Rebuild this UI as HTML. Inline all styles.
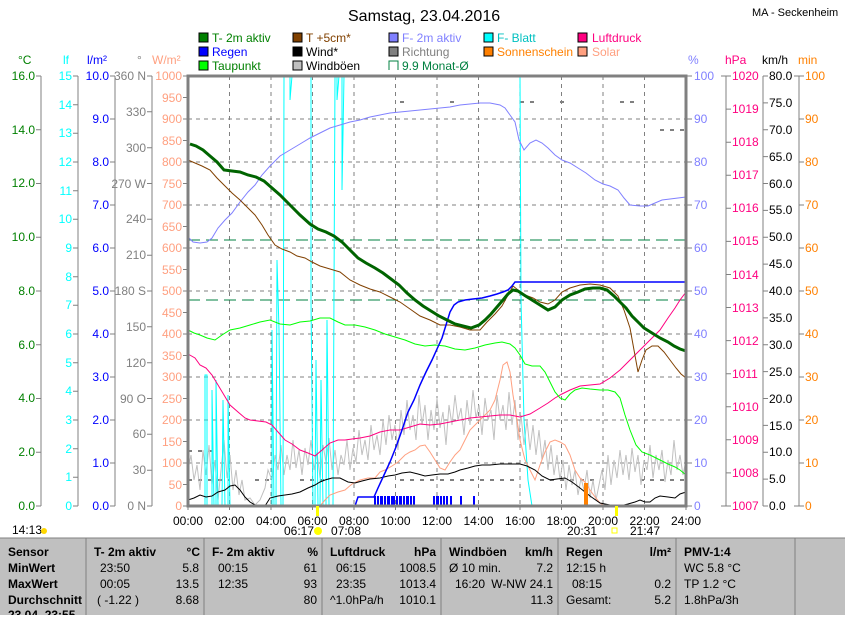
<!DOCTYPE html>
<html><head><meta charset="utf-8"><style>
body{margin:0;background:#fff;width:845px;height:615px;overflow:hidden;font-family:"Liberation Sans",sans-serif}
svg text{font-family:"Liberation Sans",sans-serif;font-size:12px}
</style></head><body>
<svg width="845" height="615" xmlns="http://www.w3.org/2000/svg">
<rect width="845" height="615" fill="#fff"/>
<text x="348" y="21" style="font-size:16px">Samstag, 23.04.2016</text>
<text x="752" y="16" style="font-size:11px">MA - Seckenheim</text>
<g style="font-size:12px">
<rect x="199" y="33" width="9" height="9" fill="#008000" stroke="#000"/><text x="212" y="42" fill="#008000">T- 2m aktiv</text>
<rect x="199" y="47" width="9" height="9" fill="#0000ff" stroke="#000"/><text x="212" y="56" fill="#0000ff">Regen</text>
<rect x="199" y="61" width="9" height="9" fill="#00ff00" stroke="#000"/><text x="212" y="70" fill="#008000">Taupunkt</text>
<rect x="293" y="33" width="9" height="9" fill="#804000" stroke="#000"/><text x="306" y="42" fill="#804000">T +5cm*</text>
<rect x="293" y="47" width="9" height="9" fill="#000" stroke="#000"/><text x="306" y="56">Wind*</text>
<rect x="293" y="61" width="9" height="9" fill="#c0c0c0" stroke="#000"/><text x="306" y="70">Windböen</text>
<rect x="389" y="33" width="9" height="9" fill="#8080ff" stroke="#000"/><text x="402" y="42" fill="#8080ff">F- 2m aktiv</text>
<rect x="389" y="47" width="9" height="9" fill="#808080" stroke="#000"/><text x="402" y="56" fill="#808080">Richtung</text>
<path d="M389,70 V61 H398 V70" fill="none" stroke="#008040"/><text x="402" y="70" fill="#008040">9.9 Monat-Ø</text>
<rect x="484" y="33" width="9" height="9" fill="#00ffff" stroke="#000"/><text x="497" y="42" fill="#00c0c0">F- Blatt</text>
<rect x="484" y="47" width="9" height="9" fill="#ff8000" stroke="#000"/><text x="497" y="56" fill="#ff8000">Sonnenschein</text>
<rect x="578" y="33" width="9" height="9" fill="#ff0080" stroke="#000"/><text x="592" y="42" fill="#ff0080">Luftdruck</text>
<rect x="578" y="47" width="9" height="9" fill="#ffa080" stroke="#000"/><text x="592" y="56" fill="#ffa080">Solar</text>
</g>
<g style="font-size:11px">
<text x="18" y="64" fill="#008000">°C</text>
<text x="63" y="64" fill="#00ffff">lf</text>
<text x="87" y="64" fill="#0000ff">l/m²</text>
<text x="137" y="64" fill="#808080">°</text>
<text x="152" y="64" fill="#ffa080">W/m²</text>
<text x="688" y="64" fill="#8080ff">%</text>
<text x="725" y="64" fill="#ff0080">hPa</text>
<text x="762" y="64" fill="#000">km/h</text>
<text x="798" y="64" fill="#ff8000">min</text>
</g>
<!-- axes -->
<g stroke="#808080" fill="none">
<path d="M41,76V506M36,506h5M36,452.25h5M36,398.5h5M36,344.75h5M36,291h5M36,237.25h5M36,183.5h5M36,129.75h5M36,76h5"/>
<path d="M78,76V506M73,506h5M73,477.3h5M73,448.7h5M73,420h5M73,391.3h5M73,362.7h5M73,334h5M73,305.3h5M73,276.7h5M73,248h5M73,219.3h5M73,190.7h5M73,162h5M73,133.3h5M73,104.7h5M73,76h5"/>
<path d="M115,76V506M110,506h5M110,463h5M110,420h5M110,377h5M110,334h5M110,291h5M110,248h5M110,205h5M110,162h5M110,119h5M110,76h5"/>
<path d="M152,76V506M147,506h5M147,470.2h5M147,434.3h5M147,398.5h5M147,362.7h5M147,326.8h5M147,291h5M147,255.2h5M147,219.3h5M147,183.5h5M147,147.7h5M147,111.8h5M147,76h5"/>
<path d="M183,506h5M183,484.5h5M183,463h5M183,441.5h5M183,420h5M183,398.5h5M183,377h5M183,355.5h5M183,334h5M183,312.5h5M183,291h5M183,269.5h5M183,248h5M183,226.5h5M183,205h5M183,183.5h5M183,162h5M183,140.5h5M183,119h5M183,97.5h5M183,76h5"/>
<path d="M687,506h5M687,463h5M687,420h5M687,377h5M687,334h5M687,291h5M687,248h5M687,205h5M687,162h5M687,119h5M687,76h5"/>
<path d="M726,76V506M721,506h10M726,472.9h5M726,439.8h5M726,406.8h5M726,373.7h5M726,340.6h5M726,307.5h5M726,274.5h5M726,241.4h5M726,208.3h5M726,175.2h5M726,142.2h5M726,109.1h5M721,76h10"/>
<path d="M763,76V506M763,506h5M763,479.1h5M763,452.25h5M763,425.4h5M763,398.5h5M763,371.6h5M763,344.75h5M763,317.9h5M763,291h5M763,264.1h5M763,237.25h5M763,210.4h5M763,183.5h5M763,156.6h5M763,129.75h5M763,102.9h5M763,76h5"/>
<path d="M799,76V506M794,506h10M799,463h5M799,420h5M799,377h5M799,334h5M799,291h5M799,248h5M799,205h5M799,162h5M799,119h5M794,76h10"/>
<path d="M188,506v4M229.5,506v4M271,506v4M312.5,506v4M354,506v4M395.5,506v4M437,506v4M478.5,506v4M520,506v4M561.5,506v4M603,506v4M644.5,506v4M686,506v4"/>
</g>
<g style="font-size:12px" text-anchor="end">
<g fill="#008000"><text x="35" y="510">0.0</text><text x="35" y="456">2.0</text><text x="35" y="402">4.0</text><text x="35" y="349">6.0</text><text x="35" y="295">8.0</text><text x="35" y="241">10.0</text><text x="35" y="187">12.0</text><text x="35" y="134">14.0</text><text x="35" y="80">16.0</text></g>
<g fill="#00ffff"><text x="72" y="510">0</text><text x="72" y="481">1</text><text x="72" y="453">2</text><text x="72" y="424">3</text><text x="72" y="395">4</text><text x="72" y="367">5</text><text x="72" y="338">6</text><text x="72" y="309">7</text><text x="72" y="281">8</text><text x="72" y="252">9</text><text x="72" y="223">10</text><text x="72" y="195">11</text><text x="72" y="166">12</text><text x="72" y="137">13</text><text x="72" y="109">14</text><text x="72" y="80">15</text></g>
<g fill="#0000ff"><text x="109" y="510">0.0</text><text x="109" y="467">1.0</text><text x="109" y="424">2.0</text><text x="109" y="381">3.0</text><text x="109" y="338">4.0</text><text x="109" y="295">5.0</text><text x="109" y="252">6.0</text><text x="109" y="209">7.0</text><text x="109" y="166">8.0</text><text x="109" y="123">9.0</text><text x="109" y="80">10.0</text></g>
<g fill="#808080"><text x="146" y="510">0   N</text><text x="146" y="474">30</text><text x="146" y="438">60</text><text x="146" y="403">90  O</text><text x="146" y="367">120</text><text x="146" y="331">150</text><text x="146" y="295">180 S</text><text x="146" y="259">210</text><text x="146" y="223">240</text><text x="146" y="188">270 W</text><text x="146" y="152">300</text><text x="146" y="116">330</text><text x="146" y="80">360 N</text></g>
<g fill="#ffa080"><text x="182" y="510">0</text><text x="182" y="489">50</text><text x="182" y="467">100</text><text x="182" y="446">150</text><text x="182" y="424">200</text><text x="182" y="403">250</text><text x="182" y="381">300</text><text x="182" y="360">350</text><text x="182" y="338">400</text><text x="182" y="317">450</text><text x="182" y="295">500</text><text x="182" y="274">550</text><text x="182" y="252">600</text><text x="182" y="231">650</text><text x="182" y="209">700</text><text x="182" y="188">750</text><text x="182" y="166">800</text><text x="182" y="145">850</text><text x="182" y="123">900</text><text x="182" y="102">950</text><text x="182" y="80">1000</text></g>
</g>
<g style="font-size:12px">
<g fill="#8080ff"><text x="694" y="510">0</text><text x="694" y="467">10</text><text x="694" y="424">20</text><text x="694" y="381">30</text><text x="694" y="338">40</text><text x="694" y="295">50</text><text x="694" y="252">60</text><text x="694" y="209">70</text><text x="694" y="166">80</text><text x="694" y="123">90</text><text x="694" y="80">100</text></g>
<g fill="#ff0080"><text x="732" y="510">1007</text><text x="732" y="477">1008</text><text x="732" y="444">1009</text><text x="732" y="411">1010</text><text x="732" y="378">1011</text><text x="732" y="345">1012</text><text x="732" y="312">1013</text><text x="732" y="279">1014</text><text x="732" y="245">1015</text><text x="732" y="212">1016</text><text x="732" y="179">1017</text><text x="732" y="146">1018</text><text x="732" y="113">1019</text><text x="732" y="80">1020</text></g>
<g fill="#000"><text x="769" y="510">0.0</text><text x="769" y="483">5.0</text><text x="769" y="456">10.0</text><text x="769" y="430">15.0</text><text x="769" y="403">20.0</text><text x="769" y="376">25.0</text><text x="769" y="349">30.0</text><text x="769" y="322">35.0</text><text x="769" y="295">40.0</text><text x="769" y="268">45.0</text><text x="769" y="241">50.0</text><text x="769" y="214">55.0</text><text x="769" y="188">60.0</text><text x="769" y="161">65.0</text><text x="769" y="134">70.0</text><text x="769" y="107">75.0</text><text x="769" y="80">80.0</text></g>
<g fill="#ff8000"><text x="805" y="510">0</text><text x="805" y="467">10</text><text x="805" y="424">20</text><text x="805" y="381">30</text><text x="805" y="338">40</text><text x="805" y="295">50</text><text x="805" y="252">60</text><text x="805" y="209">70</text><text x="805" y="166">80</text><text x="805" y="123">90</text><text x="805" y="80">100</text></g>
</g>
<!-- grid -->
<path stroke="#808080" stroke-dasharray="4,4" fill="none" d="M229.5,76V506M271,76V506M312.5,76V506M354,76V506M395.5,76V506M437,76V506M478.5,76V506M520,76V506M561.5,76V506M603,76V506M644.5,76V506M188,463H686M188,420H686M188,377H686M188,334H686M188,291H686M188,248H686M188,205H686M188,162H686M188,119H686"/>
<g fill="none" stroke-width="1">
<line x1="188" y1="240" x2="686" y2="240" stroke="#008040" stroke-dasharray="12,6"/>
<line x1="188" y1="300" x2="686" y2="300" stroke="#008040" stroke-dasharray="12,6"/>
<path stroke="#808080" stroke-width="2" stroke-dasharray="4,6" d="M188,480H230M255,480H275M300,480H330M400,480H520M540,480H600M640,480H686M400,102H410M450,102H460M520,102H540M560,102H570M620,102H640M660,130H686M188,451H215"/>
<polyline stroke="#c0c0c0" points="188,470 191,455 194,480 197,465 200,490 203,450 206,475 209,445 212,485 215,460 218,500 221,470 224,440 227,478 230,455 233,490 236,470 239,495 242,480 245,500 250,498 255,505 260,500 265,488 268,470 272,480 275,455 278,470 281,445 284,475 287,455 290,470 293,440 296,468 299,450 302,475 305,448 308,465 311,440 314,470 317,452 320,478 323,445 326,462 329,438 332,470 335,450 338,475 341,455 344,465 347,440 350,470 353,448 356,462 359,430 362,455 365,440 368,460 371,425 374,450 377,435 380,455 383,420 386,445 389,415 392,440 395,425 398,450 401,410 404,435 407,400 410,430 413,415 416,440 419,395 422,425 425,405 428,440 431,410 434,430 437,398 440,428 443,412 446,445 449,405 452,425 455,395 458,420 461,408 464,435 467,400 470,425 473,390 476,418 479,405 482,435 485,398 488,420 491,410 494,440 497,395 500,420 503,405 506,430 509,392 512,425 515,400 518,440 521,415 524,445 527,420 530,450 533,425 536,455 539,430 542,460 545,440 548,470 551,445 554,475 557,455 560,480 563,460 566,490 569,465 572,485 575,470 578,495 581,478 584,490 587,470 590,498 593,480 596,500 599,485 602,470 605,490 608,455 611,485 614,460 617,478 620,450 623,475 626,455 629,480 632,448 635,472 638,455 641,485 644,460 647,470 650,445 653,478 656,455 659,470 662,450 665,482 668,460 671,475 674,440 677,470 680,455 683,475 686,460"/>
<polyline stroke="#00ffff" points="188,506 205,506 205,375 207,375 207,506 212,506 212,390 214,506 216,506 216,380 218,506 222,506 223,400 225,506 228,506 228,395 230,506 272,506 272,330 274,506 276,506 277,260 279,330 281,506 283,506 284,76 290,76 290,100 292,76 311,76 311,300 313,506 315,506 316,360 318,506 320,506 321,380 323,506 326,506 327,320 329,506 333,506 335,76 337,76 337,100 339,76 342,76 342,190 344,76 520,76 521,300 524,420 528,480 532,506 686,506"/>
<polyline stroke="#ffa080" points="188,506 320,506 325,500 330,495 338,492 345,490 352,484 360,480 368,478 375,478 380,472 385,470 392,466 398,462 405,455 410,452 415,450 420,446 425,445 430,452 435,460 440,468 445,470 450,462 455,455 460,450 465,440 470,430 475,425 480,420 485,415 490,410 495,400 500,380 503,365 507,362 510,372 513,395 517,420 520,440 525,460 530,470 535,480 540,465 545,452 550,442 555,440 560,442 565,445 570,455 575,470 580,478 585,482 590,490 595,497 600,503 605,506 686,506"/>
<polyline stroke="#000" points="188,500 194,498 200,495 206,497 212,496 218,492 225,490 230,486 235,485 240,490 245,497 250,502 255,505 265,506 270,498 278,496 285,495 292,494 300,492 308,488 315,485 320,482 325,480 332,478 340,478 348,482 355,483 362,481 370,479 380,478 388,476 395,475 402,473 410,472 418,474 425,476 432,475 440,474 448,474 455,472 460,470 468,468 475,466 482,465 490,465 500,464 510,464 520,464 527,466 535,470 542,476 550,480 557,479 565,478 572,482 580,488 590,496 600,503 610,505 620,506 628,504 635,502 640,500 645,502 650,502 655,498 660,496 668,497 675,498 680,494 686,492"/>
<polyline stroke="#ff0080" points="188,354 195,358 200,365 206,368 212,375 218,385 224,395 230,405 238,412 245,418 250,420 258,421 266,422 272,425 278,432 285,440 292,444 300,450 308,453 315,456 322,450 330,443 338,440 345,440 352,439 360,438 370,436 380,432 390,430 400,430 410,427 420,424 430,425 440,424 450,422 460,420 470,418 480,417 490,416 500,415 510,415 520,417 530,414 540,408 548,403 555,398 562,394 570,390 580,386 590,385 600,384 610,378 620,370 630,360 640,350 650,340 660,330 668,318 675,308 680,300 686,292"/>
<polyline stroke="#00ff00" points="188,330 194,333 200,335 207,338 215,340 222,335 230,330 240,328 250,325 260,322 270,320 280,324 290,325 300,322 310,321 320,318 330,318 338,322 345,325 355,325 365,327 375,330 385,334 395,337 405,340 415,344 425,346 435,345 445,346 455,349 465,350 475,348 485,345 495,343 502,342 510,344 515,348 520,355 525,364 532,366 540,366 545,372 550,382 555,392 560,398 565,400 570,394 575,390 582,388 590,389 600,390 608,390 615,392 620,398 625,415 630,430 636,445 642,452 650,455 660,460 668,464 675,467 680,470 686,475"/>
<polyline stroke="#8080ff" points="188,237 193,242 200,243 207,242 212,238 218,228 225,220 232,213 240,202 248,192 255,185 262,175 270,166 280,156 290,150 300,144 310,138 320,133 330,128 340,125 350,122 360,120 370,117 380,115 390,113 400,112 410,111 420,110 430,109 440,108 450,107 460,105 470,104 480,103 490,103 500,105 505,108 510,115 515,122 519,140 524,150 530,143 536,140 542,143 548,148 555,155 562,160 570,163 578,168 586,173 595,180 603,184 610,186 618,190 624,198 630,205 640,206 648,206 655,203 662,200 670,199 686,197"/>
<polyline stroke="#804000" points="188,160 195,163 202,166 210,170 217,178 225,186 232,193 240,200 248,208 255,215 262,225 268,235 275,245 282,249 290,252 297,256 305,258 312,262 320,266 330,269 340,272 350,280 360,285 370,289 380,292 390,297 400,302 410,309 420,316 430,320 440,325 450,325 460,327 470,330 480,330 487,322 495,314 502,306 508,295 513,286 518,290 525,295 533,298 540,302 548,304 555,300 562,292 570,288 580,285 590,284 600,285 610,288 618,296 624,310 630,328 634,350 638,372 642,360 646,350 652,346 658,346 664,352 670,360 676,368 681,374 686,378"/>
<polyline stroke="#0000ff" stroke-width="1.5" points="355,506 358,497 374,497 378,488 384,475 390,462 396,447 402,430 408,412 414,400 420,385 426,372 432,360 437,349 442,338 446,325 450,312 454,305 458,302 465,300 473,299 482,298 490,296 497,294 503,292 508,290 512,286 515,282 520,282 686,282"/>
<polyline stroke="#006400" stroke-width="3" points="190,144 196,146 203,150 210,156 217,162 224,170 232,171 240,172 248,175 256,177 264,181 272,188 280,195 290,205 300,215 310,224 318,229 326,232 334,236 342,242 350,250 358,258 366,263 375,268 383,273 391,279 399,285 407,293 415,300 423,306 431,311 439,316 447,320 455,324 463,326 471,328 479,325 485,320 491,314 497,307 503,300 508,294 513,290 518,291 524,295 532,300 540,305 548,310 555,307 562,300 570,295 578,292 585,289 593,288 600,288 607,290 614,296 620,302 626,308 632,316 638,322 644,328 652,333 660,338 668,342 674,346 680,349 686,351"/>
</g>
<g fill="#0000ff">
<rect x="374" y="496" width="2" height="10"/><rect x="377" y="496" width="2" height="10"/><rect x="380" y="496" width="3" height="10"/><rect x="384" y="496" width="2" height="10"/><rect x="387" y="496" width="3" height="10"/><rect x="391" y="496" width="4" height="10"/><rect x="396" y="496" width="2" height="10"/><rect x="399" y="496" width="3" height="10"/><rect x="403" y="496" width="2" height="10"/><rect x="406" y="496" width="3" height="10"/><rect x="410" y="496" width="2" height="10"/><rect x="413" y="496" width="2" height="10"/><rect x="433" y="496" width="2" height="10"/><rect x="436" y="496" width="3" height="10"/><rect x="440" y="496" width="2" height="10"/><rect x="443" y="496" width="2" height="10"/><rect x="446" y="496" width="2" height="10"/><rect x="450" y="496" width="2" height="10"/><rect x="460" y="496" width="2" height="10"/><rect x="473" y="496" width="2" height="10"/>
</g>
<rect x="584" y="483" width="4" height="23" fill="#ff8000"/>
<line x1="188" y1="506" x2="686" y2="506" stroke="#ff8000" stroke-width="1.5"/>
<rect x="188" y="76" width="498" height="430" fill="none" stroke="#808080" stroke-width="3"/>
<g style="font-size:11px" text-anchor="middle">
<text x="188" y="525">00:00</text><text x="229.5" y="525">02:00</text><text x="271" y="525">04:00</text><text x="312.5" y="525">06:00</text><text x="354" y="525">08:00</text><text x="395.5" y="525">10:00</text><text x="437" y="525">12:00</text><text x="478.5" y="525">14:00</text><text x="520" y="525">16:00</text><text x="561.5" y="525">18:00</text><text x="603" y="525">20:00</text><text x="644.5" y="525">22:00</text><text x="686" y="525">24:00</text>
</g>
<g style="font-size:11px">
<text x="12" y="534">14:13</text><circle cx="44" cy="531" r="3" fill="#ffd700"/>
<text x="284" y="535">06:17</text><circle cx="318" cy="531" r="4" fill="#ffff00"/>
<text x="331" y="535">07:08</text>
<text x="567" y="535">20:31</text><rect x="612" y="528" width="5" height="5" fill="none" stroke="#ffff00"/>
<text x="630" y="535">21:47</text>
<rect x="316" y="506" width="3" height="10" fill="#ffff00"/>
<rect x="615" y="506" width="3" height="10" fill="#ffff00"/>
</g>
<rect x="0" y="538" width="845" height="77" fill="#c0c0c0"/>
<line x1="0" y1="538" x2="845" y2="538" stroke="#808080"/>
<g stroke="#808080"><line x1="86" y1="538" x2="86" y2="615"/><line x1="204" y1="538" x2="204" y2="615"/><line x1="322" y1="538" x2="322" y2="615"/><line x1="441" y1="538" x2="441" y2="615"/><line x1="558" y1="538" x2="558" y2="615"/><line x1="676" y1="538" x2="676" y2="615"/><line x1="795" y1="538" x2="795" y2="615"/></g>
<g style="font-size:12px" fill="#000">
<g font-weight="bold"><text x="8" y="556">Sensor</text><text x="8" y="572">MinWert</text><text x="8" y="588">MaxWert</text><text x="8" y="604">Durchschnitt</text><text x="8" y="619">23.04. 23:55</text>
<text x="94" y="556">T- 2m aktiv</text><text x="200" y="556" text-anchor="end">°C</text>
<text x="212" y="556">F- 2m aktiv</text><text x="318" y="556" text-anchor="end">%</text>
<text x="330" y="556">Luftdruck</text><text x="436" y="556" text-anchor="end">hPa</text>
<text x="449" y="556">Windböen</text><text x="553" y="556" text-anchor="end">km/h</text>
<text x="566" y="556">Regen</text><text x="671" y="556" text-anchor="end">l/m²</text>
<text x="684" y="556">PMV-1:4</text></g>
<text x="100" y="572">23:50</text><text x="199" y="572" text-anchor="end">5.8</text>
<text x="100" y="588">00:05</text><text x="199" y="588" text-anchor="end">13.5</text>
<text x="97" y="604">( -1.22 )</text><text x="199" y="604" text-anchor="end">8.68</text>
<text x="218" y="572">00:15</text><text x="317" y="572" text-anchor="end">61</text>
<text x="218" y="588">12:35</text><text x="317" y="588" text-anchor="end">93</text>
<text x="317" y="604" text-anchor="end">80</text>
<text x="336" y="572">06:15</text><text x="436" y="572" text-anchor="end">1008.5</text>
<text x="336" y="588">23:35</text><text x="436" y="588" text-anchor="end">1013.4</text>
<text x="330" y="604">^1.0hPa/h</text><text x="436" y="604" text-anchor="end">1010.1</text>
<text x="449" y="572">Ø 10 min.</text><text x="553" y="572" text-anchor="end">7.2</text>
<text x="455" y="588">16:20</text><text x="553" y="588" text-anchor="end">W-NW 24.1</text>
<text x="553" y="604" text-anchor="end">11.3</text>
<text x="566" y="572">12:15 h</text>
<text x="572" y="588">08:15</text><text x="671" y="588" text-anchor="end">0.2</text>
<text x="566" y="604">Gesamt:</text><text x="671" y="604" text-anchor="end">5.2</text>
<text x="684" y="572">WC 5.8 °C</text><text x="684" y="588">TP 1.2 °C</text><text x="684" y="604">1.8hPa/3h</text>
</g>
</svg>
</body></html>
